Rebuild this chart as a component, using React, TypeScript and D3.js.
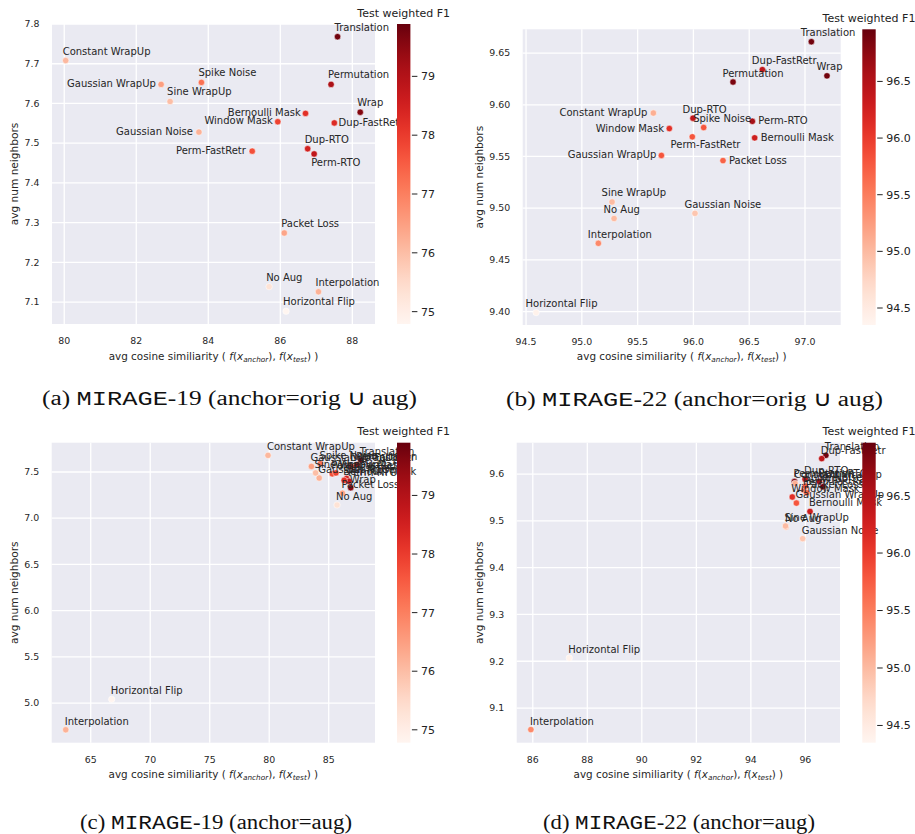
import React from 'react';
import * as d3 from 'd3';

// augmentation names, same order in every array below
const augs = [
  'No Aug', 'Horizontal Flip', 'Interpolation', 'Translation', 'Permutation', 'Wrap',
  'Dup-FastRetr', 'Dup-RTO', 'Perm-FastRetr', 'Perm-RTO', 'Bernoulli Mask', 'Window Mask',
  'Packet Loss', 'Spike Noise', 'Gaussian Noise', 'Constant WrapUp', 'Gaussian WrapUp', 'Sine WrapUp',
];

// test weighted F1 per dataset
const f1Mirage19 = [75.3, 74.8, 76.2, 79.8, 79.1, 79.6, 78.3, 78.5, 77.7, 78.8, 78.2, 77.9, 76.4, 77.2, 76.2, 76.1, 76.5, 76.0];
const f1Mirage22 = [95.0, 94.4, 95.4, 96.9, 96.85, 96.9, 96.4, 96.4, 95.8, 96.6, 96.3, 96.1, 95.7, 95.8, 94.9, 95.1, 95.8, 95.0];

// (a) MIRAGE-19 anchor=orig U aug
const cosA = [85.69, 86.16, 87.06, 87.59, 87.41, 88.22, 87.5, 86.76, 85.22, 86.94, 86.7, 85.93, 86.11, 83.81, 83.74, 80.04, 82.69, 82.94];
const nbrA = [7.139, 7.077, 7.126, 7.768, 7.648, 7.578, 7.551, 7.486, 7.48, 7.473, 7.575, 7.554, 7.274, 7.653, 7.528, 7.708, 7.648, 7.605];
// (b) MIRAGE-22 anchor=orig U aug
const cosB = [95.289, 94.59, 95.148, 97.057, 96.355, 97.197, 96.618, 95.996, 95.99, 96.528, 96.549, 95.784, 96.265, 96.092, 96.014, 95.641, 95.713, 95.271];
const nbrB = [9.49, 9.399, 9.466, 9.661, 9.622, 9.628, 9.634, 9.587, 9.569, 9.584, 9.568, 9.577, 9.546, 9.578, 9.495, 9.592, 9.551, 9.506];
// (c) MIRAGE-19 anchor=aug
const cosC = [85.7, 66.76, 62.9, 87.7, 87.4, 86.85, 86.9, 86.5, 85.3, 86.7, 86.3, 85.6, 86.15, 84.3, 84.2, 79.9, 83.55, 83.9];
const nbrC = [7.143, 5.04, 4.711, 7.63, 7.58, 7.33, 7.56, 7.43, 7.48, 7.4, 7.41, 7.49, 7.27, 7.59, 7.435, 7.68, 7.56, 7.49];
// (d) MIRAGE-22 anchor=aug
const cosD = [95.29, 87.34, 85.93, 96.75, 95.6, 96.64, 96.6, 95.99, 95.95, 96.51, 96.17, 95.52, 96.05, 96.0, 95.9, 95.62, 95.67, 95.27];
const nbrD = [9.487, 9.207, 9.054, 9.64, 9.584, 9.573, 9.633, 9.589, 9.566, 9.584, 9.52, 9.551, 9.56, 9.574, 9.462, 9.58, 9.538, 9.489];

const xTicksA = [80, 82, 84, 86, 88];
const yTicksA = [7.1, 7.2, 7.3, 7.4, 7.5, 7.6, 7.7, 7.8];
const xTicksB = [94.5, 95.0, 95.5, 96.0, 96.5, 97.0];
const yTicksB = [9.4, 9.45, 9.5, 9.55, 9.6, 9.65];
const xTicksC = [65, 70, 75, 80, 85];
const yTicksC = [5.0, 5.5, 6.0, 6.5, 7.0, 7.5];
const xTicksD = [86, 88, 90, 92, 94, 96];
const yTicksD = [9.1, 9.2, 9.3, 9.4, 9.5, 9.6];
const cbTicks19 = [75, 76, 77, 78, 79];
const cbTicks22 = [94.5, 95.0, 95.5, 96.0, 96.5];

// label placement (adjusted text in the top row): [dx, dy, anchor]
type Place = [number, number, 'start' | 'end'];
const placeA: Record<string, Place> = {
  'Gaussian WrapUp': [-5.3, 3, 'end'],
  'Bernoulli Mask': [-4.7, 2.7, 'end'],
  'Window Mask': [-5, 2.7, 'end'],
  'Dup-FastRetr': [4.3, 3, 'start'],
  'Gaussian Noise': [-6, 3, 'end'],
  'Perm-FastRetr': [-6.3, 3, 'end'],
  'Perm-RTO': [-3, 11.7, 'start'],
};
const placeB: Record<string, Place> = {
  'Constant WrapUp': [-6, 3, 'end'],
  'Perm-RTO': [6, 2.7, 'start'],
  'Window Mask': [-5.3, 3, 'end'],
  'Perm-FastRetr': [-21.7, 11, 'start'],
  'Bernoulli Mask': [6, 3, 'start'],
  'Gaussian WrapUp': [-5, 3, 'end'],
  'Packet Loss': [6, 3, 'start'],
};

const FONT = 'DejaVu Sans, sans-serif';
const INK = '#262626';

type PanelProps = {
  id: string;
  xs: number[]; ys: number[]; f1: number[];
  box: { l: number; r: number; t: number; b: number };
  xDom: [number, number]; yDom: [number, number]; cDom: [number, number];
  xTicks: number[]; yTicks: number[]; cTicks: number[];
  xFmt: string; yFmt: string; cFmt: string;
  place: Record<string, Place>; defPlace: Place;
  cbX: number; titleY: number; xLabelY: number; yLabelX: number; xTickY: number;
};

function Panel(p: PanelProps) {
  const x = d3.scaleLinear().domain(p.xDom).range([p.box.l, p.box.r]);
  const y = d3.scaleLinear().domain(p.yDom).range([p.box.b, p.box.t]);
  const color = d3.scaleSequential(d3.interpolateReds).domain(p.cDom);
  const cb = d3.scaleLinear().domain(p.cDom).range([p.box.b, p.box.t]);
  const cbW = 13.4;
  const stops = d3.range(0, 1.0001, 0.05);
  const cx = (p.box.l + p.box.r) / 2;
  const cy = (p.box.t + p.box.b) / 2;
  const fx = d3.format(p.xFmt), fy = d3.format(p.yFmt), fc = d3.format(p.cFmt);
  return (
    <g fontFamily={FONT}>
      <defs>
        <linearGradient id={`grad-${p.id}`} x1="0" y1="1" x2="0" y2="0">
          {stops.map(s => (
            <stop key={s} offset={s} stopColor={d3.interpolateReds(s)} />
          ))}
        </linearGradient>
      </defs>
      <rect x={p.box.l} y={p.box.t} width={p.box.r - p.box.l} height={p.box.b - p.box.t} fill="#EAEAF2" />
      {p.xTicks.map(t => (
        <line key={'gx' + t} x1={x(t)} x2={x(t)} y1={p.box.t} y2={p.box.b} stroke="#fff" strokeWidth={1.3} />
      ))}
      {p.yTicks.map(t => (
        <line key={'gy' + t} x1={p.box.l} x2={p.box.r} y1={y(t)} y2={y(t)} stroke="#fff" strokeWidth={1.3} />
      ))}
      {p.xTicks.map(t => (
        <text key={'tx' + t} x={x(t)} y={p.xTickY} textAnchor="middle" fontSize={9.4} fill={INK}>{fx(t)}</text>
      ))}
      {p.yTicks.map(t => (
        <text key={'ty' + t} x={p.box.l - 12.5} y={y(t)} dy="0.35em" textAnchor="end" fontSize={9.4} fill={INK}>{fy(t)}</text>
      ))}
      {p.xs.map((v, i) => (
        <circle key={'pt' + i} cx={x(v)} cy={y(p.ys[i])} r={3.2} fill={color(p.f1[i])} stroke="#fff" strokeWidth={0.5} />
      ))}
      {p.xs.map((v, i) => {
        const [dx, dy, anchor] = p.place[augs[i]] || p.defPlace;
        return (
          <text key={'lb' + i} x={x(v) + dx} y={y(p.ys[i]) + dy} textAnchor={anchor} fontSize={10} fill={INK}>{augs[i]}</text>
        );
      })}
      <rect x={p.cbX} y={p.box.t} width={cbW} height={p.box.b - p.box.t} fill={`url(#grad-${p.id})`} />
      {p.cTicks.map(t => (
        <g key={'ct' + t}>
          <line x1={p.cbX + cbW + 1.5} x2={p.cbX + cbW + 7} y1={cb(t)} y2={cb(t)} stroke="#222" strokeWidth={1} />
          <text x={p.cbX + cbW + 10.5} y={cb(t)} dy="0.36em" fontSize={11} fill="#222">{fc(t)}</text>
        </g>
      ))}
      <text x={p.cbX + cbW / 2} y={p.titleY} textAnchor="middle" fontSize={11} fill="#222">Test weighted F1</text>
      <text x={cx} y={p.xLabelY} textAnchor="middle" fontSize={10.4} fill={INK}>
        {'avg cosine similiarity ( '}
        <tspan fontStyle="italic">f</tspan>
        {'('}
        <tspan fontStyle="italic">x</tspan>
        <tspan fontStyle="italic" fontSize={7.3} dy={2}>anchor</tspan>
        <tspan dy={-2}>{'), '}</tspan>
        <tspan fontStyle="italic">f</tspan>
        {'('}
        <tspan fontStyle="italic">x</tspan>
        <tspan fontStyle="italic" fontSize={7.3} dy={2}>test</tspan>
        <tspan dy={-2}>{') )'}</tspan>
      </text>
      <text transform={`translate(${p.yLabelX},${cy}) rotate(-90)`} textAnchor="middle" fontSize={10.6} fill={INK}>avg num neighbors</text>
    </g>
  );
}

function Caption({ x0, x1, y, tag, ds, anchor }: { x0: number; x1: number; y: number; tag: string; ds: string; anchor: string }) {
  return (
    <text x={x0} y={y} textLength={x1 - x0} lengthAdjust="spacingAndGlyphs" fontFamily="Liberation Serif, serif" fontSize={20.5} fill="#111">
      {`(${tag}) `}
      <tspan fontFamily="Liberation Mono, monospace">MIRAGE</tspan>
      {`-${ds} (anchor=${anchor})`}
    </text>
  );
}

export default function App() {
  return (
    <svg width={915} height={834} style={{ position: 'absolute', left: 0, top: 0, background: '#fff' }}>
      <Panel id="a" xs={cosA} ys={nbrA} f1={f1Mirage19}
        box={{ l: 52, r: 375, t: 24, b: 324 }} xDom={[79.66, 88.63]} yDom={[7.045, 7.8]} cDom={[74.79, 79.89]}
        xTicks={xTicksA} yTicks={yTicksA} cTicks={cbTicks19} xFmt="d" yFmt=".1f" cFmt="d"
        place={placeA} defPlace={[-3, -6, 'start']}
        cbX={397} titleY={16.5} xLabelY={360} yLabelX={17.5} xTickY={344} />
      <Panel id="b" xs={cosB} ys={nbrB} f1={f1Mirage22}
        box={{ l: 522.7, r: 840.7, t: 29.3, b: 325 }} xDom={[94.47, 97.32]} yDom={[9.387, 9.673]} cDom={[94.35, 96.96]}
        xTicks={xTicksB} yTicks={yTicksB} cTicks={cbTicks22} xFmt=".1f" yFmt=".2f" cFmt=".1f"
        place={placeB} defPlace={[-10.5, -5.5, 'start']}
        cbX={862.3} titleY={21.7} xLabelY={360} yLabelX={482.5} xTickY={345} />
      <Panel id="c" xs={cosC} ys={nbrC} f1={f1Mirage19}
        box={{ l: 51.7, r: 375, t: 442.7, b: 742.7 }} xDom={[61.72, 88.89]} yDom={[4.571, 7.817]} cDom={[74.78, 79.9]}
        xTicks={xTicksC} yTicks={yTicksC} cTicks={cbTicks19} xFmt="d" yFmt=".1f" cFmt="d"
        place={{}} defPlace={[-1, -5, 'start']}
        cbX={397} titleY={434.5} xLabelY={777.7} yLabelX={17.5} xTickY={762.7} />
      <Panel id="d" xs={cosD} ys={nbrD} f1={f1Mirage22}
        box={{ l: 516.7, r: 840, t: 442.7, b: 742.7 }} xDom={[85.41, 97.27]} yDom={[9.026, 9.667]} cDom={[94.35, 96.96]}
        xTicks={xTicksD} yTicks={yTicksD} cTicks={cbTicks22} xFmt="d" yFmt=".1f" cFmt=".1f"
        place={{}} defPlace={[-1, -5, 'start']}
        cbX={862.3} titleY={434.5} xLabelY={777.7} yLabelX={482.5} xTickY={762.7} />
      <Caption x0={42} x1={417} y={405} tag="a" ds="19" anchor="orig ∪ aug" />
      <Caption x0={506} x1={883} y={406} tag="b" ds="22" anchor="orig ∪ aug" />
      <Caption x0={80} x1={352} y={829} tag="c" ds="19" anchor="aug" />
      <Caption x0={543} x1={815} y={829} tag="d" ds="22" anchor="aug" />
    </svg>
  );
}
